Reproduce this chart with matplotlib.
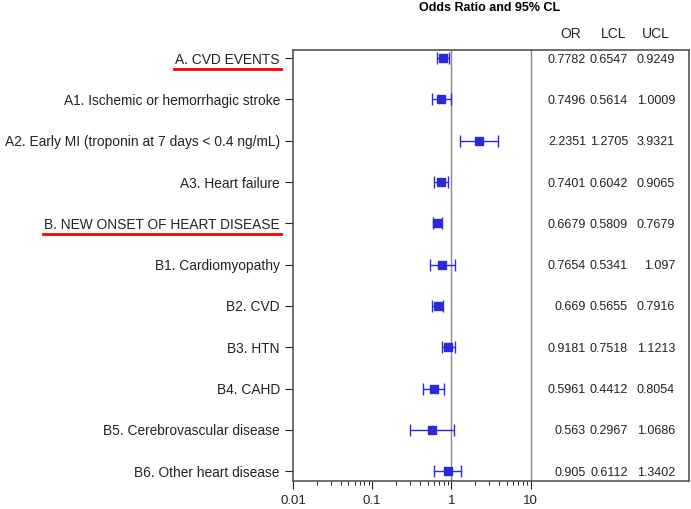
import numpy as np
import matplotlib.pyplot as plt
from matplotlib.lines import Line2D

plt.rcParams['font.family'] = ['Liberation Sans', 'DejaVu Sans']

labels = ["A. CVD EVENTS",
          "A1. Ischemic or hemorrhagic stroke",
          "A2. Early MI (troponin at 7 days < 0.4 ng/mL)",
          "A3. Heart failure",
          "B. NEW ONSET OF HEART DISEASE",
          "B1. Cardiomyopathy",
          "B2. CVD",
          "B3. HTN",
          "B4. CAHD",
          "B5. Cerebrovascular disease",
          "B6. Other heart disease"]
odds = [0.7782, 0.7496, 2.2351, 0.7401, 0.6679, 0.7654, 0.669, 0.9181, 0.5961, 0.563, 0.905]
lcl = [0.6547, 0.5614, 1.2705, 0.6042, 0.5809, 0.5341, 0.5655, 0.7518, 0.4412, 0.2967, 0.6112]
ucl = [0.9249, 1.0009, 3.9321, 0.9065, 0.7679, 1.097, 0.7916, 1.1213, 0.8054, 1.0686, 1.3402]
underlined = ["A. CVD EVENTS", "B. NEW ONSET OF HEART DISEASE"]

blue = "#2a2ad8"
gray = "#555555"

fig = plt.figure(figsize=(6.91, 5.09), dpi=100)
ax = fig.add_axes([0.424, 0.055, 0.573, 0.847])

y = np.arange(len(labels))
odds = np.array(odds)
err = [odds - np.array(lcl), np.array(ucl) - odds]
ax.errorbar(odds, y, xerr=err, fmt="s", color=blue, ecolor=blue, ms=6,
            elinewidth=1, capsize=4, capthick=1, zorder=3)

ax.axvline(1, color="#888888", lw=1)
ax.axvline(10, color="#888888", lw=1)

ax.set_xscale("log")
ax.set_xlim(0.01, 1000)
ax.set_ylim(len(labels) - 0.76, -0.2)
ax.set_xticks([0.01, 0.1, 1, 10])
ax.set_xticklabels(["0.01", "0.1", "1", "10"])
minor = [m * d for d in [0.01, 0.1, 1] for m in range(2, 10)]
ax.set_xticks(minor, minor=True)
ax.set_yticks(y)
ax.set_yticklabels(labels)
ax.tick_params(axis="both", colors="#222222", length=6)
ax.tick_params(axis="y", labelsize=9.9)
ax.tick_params(axis="x", labelsize=9.5, pad=4)
ax.tick_params(axis="x", which="minor", length=3)
for s in ax.spines.values():
    s.set_color(gray)
    s.set_linewidth(1.2)

# table of values on the right
cols = [("OR", odds, 0.740, 0.701), ("LCL", lcl, 0.846, 0.811), ("UCL", ucl, 0.965, 0.917)]
for name, vals, xr, xh in cols:
    ax.text(xh, 1.036, name, transform=ax.transAxes, ha="center", va="center",
            fontsize=10, color="#222222")
    for i, v in enumerate(vals):
        ax.text(xr, i, format(v, "g"), transform=ax.get_yaxis_transform(),
                ha="right", va="center_baseline", fontsize=9, color="#222222")

fig.text(0.709, 0.984, "Odds Ratio and 95% CL", ha="center", va="center",
         fontsize=9, fontweight="bold")

# red underline for group headings
fig.canvas.draw()
r = fig.canvas.get_renderer()
for t in ax.get_yticklabels():
    if t.get_text() in underlined:
        bb = t.get_window_extent(r)
        yy = bb.y0 - 2
        fig.add_artist(Line2D([bb.x0 - 1, bb.x1 + 1], [yy, yy], color="red", lw=2,
                              transform=None))

fig.savefig("out.png", dpi=100)
